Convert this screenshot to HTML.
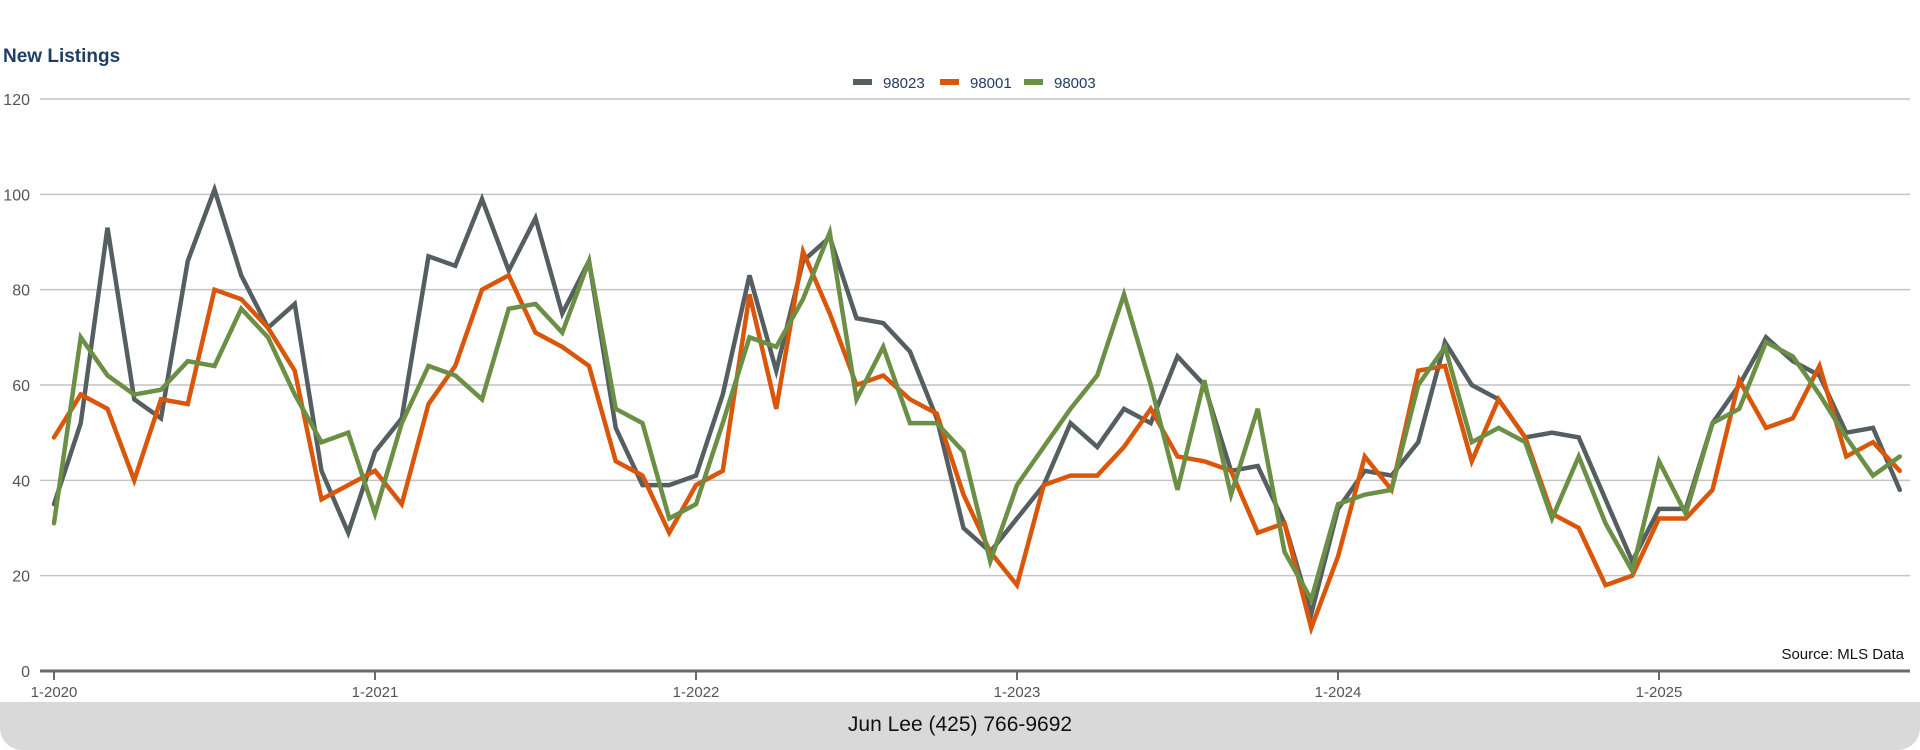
<!DOCTYPE html>
<html><head><meta charset="utf-8"><style>
html,body{margin:0;padding:0;background:#fff;width:1920px;height:750px;overflow:hidden;font-family:"Liberation Sans",sans-serif}
</style></head><body>
<svg id="chart" width="1920" height="750" xmlns="http://www.w3.org/2000/svg">
<rect x="0" y="702" width="1920" height="48" rx="22" fill="#d9d9d9"/>
<rect x="0" y="702" width="1920" height="20" fill="#d9d9d9"/>
<text x="960" y="731" text-anchor="middle" font-size="21" fill="#111">Jun Lee (425) 766-9692</text>
<text x="3" y="62" font-size="19" font-weight="bold" fill="#1f3d66">New Listings</text>
<g id="legend"></g>
<g id="grid"></g><g id="lines"></g>
<text x="1904" y="659" text-anchor="end" font-size="15" fill="#111">Source: MLS Data</text>
</svg>
<script>
const seriesNames=["98023","98001","98003"];
const colors=["#555f61","#d9560b","#6a8f45"];
const yTicks=[0,20,40,60,80,100,120];
const xTickLabels=["1-2020","1-2021","1-2022","1-2023","1-2024","1-2025"];
const s98023=[35,52,93,57,53,86,101,83,72,77,42,29, 46,53,87,85,99,84,95,75,86,51,39,39, 41,58,83,63,86,91,74,73,67,53,30,25, 32,39,52,47,55,52,66,60,42,43,31,12, 34,42,41,48,69,60,57,49,50,49,36,23, 34,34,52,60,70,65,62,50,51,38];
const s98001=[49,58,55,40,57,56,80,78,72,63,36,39, 42,35,56,64,80,83,71,68,64,44,41,29, 39,42,79,55,88,75,60,62,57,54,37,25, 18,39,41,41,47,55,45,44,42,29,31,9, 24,45,38,63,64,44,57,49,33,30,18,20, 32,32,38,61,51,53,64,45,48,42];
const s98003=[31,70,62,58,59,65,64,76,70,58,48,50, 33,52,64,62,57,76,77,71,86,55,52,32, 35,52,70,68,78,92,57,68,52,52,46,23, 39,47,55,62,79,60,38,61,37,55,25,15, 35,37,38,60,68,48,51,48,32,45,31,21, 44,33,52,55,69,66,58,49,41,45];
const data=[s98023,s98001,s98003];
const NS="http://www.w3.org/2000/svg";
const x0=54,perMonth=321/12,yBase=671,yTop=99;
const xs=i=>x0+i*perMonth;
const ys=v=>yBase-(v/120)*(yBase-yTop);
const grid=document.getElementById('grid');
function mk(t,a,p){const e=document.createElementNS(NS,t);for(const k in a)e.setAttribute(k,a[k]);p.appendChild(e);return e;}
yTicks.forEach(v=>{
  if(v>0){const l=mk('line',{x1:40,x2:1910,y1:ys(v),y2:ys(v),stroke:'#c4c4c4','stroke-width':1.5},grid);
  
  }
  const t=mk('text',{x:30,y:ys(v)+6,'text-anchor':'end','font-size':16,fill:'#555'},grid);t.textContent=v;
  
  
});
const ax=mk('line',{x1:40,x2:1910,y1:yBase,y2:yBase,stroke:'#6a6a6a','stroke-width':3},grid);


xTickLabels.forEach((lab,i)=>{
  const x=xs(i*12);
  mk('line',{x1:x,x2:x,y1:yBase,y2:yBase+9,stroke:'#6a6a6a','stroke-width':2},grid);
  const t=mk('text',{x:x,y:yBase+26,'text-anchor':'middle','font-size':15,fill:'#555'},grid);t.textContent=lab;
  
  
});
const lines=document.getElementById('lines');
data.forEach((arr,si)=>{
  const p=mk('polyline',{points:arr.map((v,i)=>xs(i)+','+ys(v)).join(' '),fill:'none',stroke:colors[si],'stroke-width':4.5,'stroke-linejoin':'miter','stroke-linecap':'round'},lines);
  
  
});
const lg=document.getElementById('legend');
const lx=[853,940,1024];
seriesNames.forEach((n,i)=>{
  const r=mk('rect',{x:lx[i],y:79,width:19,height:6,fill:colors[i]},lg);
  
  
  const t=mk('text',{x:lx[i]+30,y:88,'font-size':15,fill:'#1f3d66'},lg);t.textContent=n;
  
  
});
</script>
</body></html>
